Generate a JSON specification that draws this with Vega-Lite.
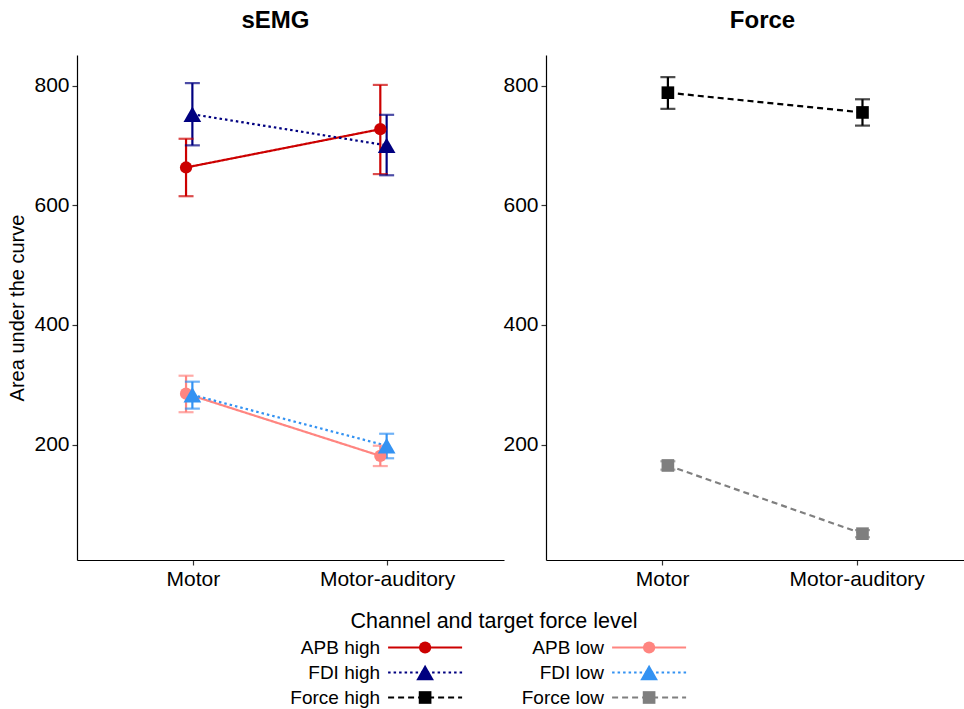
{
  "$schema": "https://vega.github.io/schema/vega-lite/v6.json",
  "background": "white",
  "padding": {"left": 7, "top": 9, "right": 0, "bottom": 0},
  "config": {
    "font": "Liberation Sans",
    "view": {"stroke": null},
    "axis": {"grid": false, "domainColor": "#000000", "domainWidth": 1.2, "tickColor": "#333333", "tickWidth": 1.2, "tickSize": 5, "labelColor": "#000000", "labelFontSize": 21, "labelPadding": 3, "titleColor": "#000000", "titleFontSize": 20, "titleFontWeight": "normal"},
    "title": {"color": "#000000"}
  },
  "datasets": {
    "d": [
      {"panel": "sEMG", "condition": "Motor", "channel": "APB", "level": "high", "series": "APB high", "mean": 663, "lo": 615, "hi": 711},
      {"panel": "sEMG", "condition": "Motor-auditory", "channel": "APB", "level": "high", "series": "APB high", "mean": 727, "lo": 652, "hi": 801},
      {"panel": "sEMG", "condition": "Motor", "channel": "FDI", "level": "high", "series": "FDI high", "mean": 752, "lo": 700, "hi": 804},
      {"panel": "sEMG", "condition": "Motor-auditory", "channel": "FDI", "level": "high", "series": "FDI high", "mean": 700, "lo": 650, "hi": 751},
      {"panel": "sEMG", "condition": "Motor", "channel": "APB", "level": "low", "series": "APB low", "mean": 285, "lo": 254, "hi": 315},
      {"panel": "sEMG", "condition": "Motor-auditory", "channel": "APB", "level": "low", "series": "APB low", "mean": 181, "lo": 164, "hi": 198},
      {"panel": "sEMG", "condition": "Motor", "channel": "FDI", "level": "low", "series": "FDI low", "mean": 283, "lo": 260, "hi": 305},
      {"panel": "sEMG", "condition": "Motor-auditory", "channel": "FDI", "level": "low", "series": "FDI low", "mean": 198, "lo": 177, "hi": 218},
      {"panel": "Force", "condition": "Motor", "channel": "Force", "level": "high", "series": "Force high", "mean": 788, "lo": 761, "hi": 814},
      {"panel": "Force", "condition": "Motor-auditory", "channel": "Force", "level": "high", "series": "Force high", "mean": 755, "lo": 733, "hi": 777},
      {"panel": "Force", "condition": "Motor", "channel": "Force", "level": "low", "series": "Force low", "mean": 165, "lo": 158, "hi": 172},
      {"panel": "Force", "condition": "Motor-auditory", "channel": "Force", "level": "low", "series": "Force low", "mean": 51, "lo": 45, "hi": 57}
    ]
  },
  "data": {"name": "d"},
  "vconcat": [
    {
      "hconcat": [
        {
          "width": 427,
          "height": 505,
          "title": {"text": "sEMG", "fontSize": 24, "fontWeight": "bold", "anchor": "middle", "frame": "group", "dx": -15, "offset": 22},
          "transform": [{"filter": "datum.panel === 'sEMG'"}],
          "encoding": {
            "x": {"field": "condition", "type": "nominal", "scale": {"type": "band", "domain": ["Motor", "Motor-auditory"], "paddingInner": 0.892, "paddingOuter": 0.545, "align": 0.5}, "axis": {"title": null, "labelAngle": 0}},
            "xOffset": {"field": "channel", "type": "nominal", "scale": {"domain": ["APB", "FDI", "Force"], "range": [0, 19]}},
            "color": {"field": "series", "type": "nominal", "scale": {"domain": ["APB high", "APB low", "FDI high", "FDI low", "Force high", "Force low"], "range": ["#CC0000", "#FF8580", "#000080", "#3392F2", "#000000", "#7F7F7F"]}, "legend": null}
          },
          "layer": [
            {"mark": {"type": "line", "strokeWidth": 2.2}, "encoding": {
              "y": {"field": "mean", "type": "quantitative", "title": "Area under the curve", "scale": {"domain": [7, 851], "nice": false, "zero": false}, "axis": {"values": [200, 400, 600, 800], "titlePadding": 6}},
              "strokeDash": {"field": "channel", "type": "nominal", "scale": {"domain": ["APB", "FDI", "Force"], "range": [[1, 0], [2.5, 3], [6, 4]]}, "legend": null},
              "detail": {"field": "series"}}},
            {"mark": {"type": "rule", "strokeWidth": 2.2}, "encoding": {
              "y": {"field": "lo", "type": "quantitative", "title": "Area under the curve"}, "y2": {"field": "hi"}}},
            {"mark": {"type": "tick", "orient": "horizontal", "size": 15, "thickness": 2.2}, "encoding": {
              "y": {"field": "lo", "type": "quantitative", "title": "Area under the curve"}}},
            {"mark": {"type": "tick", "orient": "horizontal", "size": 15, "thickness": 2.2}, "encoding": {
              "y": {"field": "hi", "type": "quantitative", "title": "Area under the curve"}}},
            {"mark": {"type": "point", "filled": true, "opacity": 1}, "encoding": {
              "y": {"field": "mean", "type": "quantitative", "title": "Area under the curve"},
              "shape": {"field": "channel", "type": "nominal", "scale": {"domain": ["APB", "FDI", "Force"], "range": ["circle", "triangle-up", "square"]}, "legend": null},
              "size": {"field": "channel", "type": "nominal", "scale": {"type": "ordinal", "domain": ["APB", "FDI", "Force"], "range": [150, 313, 160]}, "legend": null}}}
          ]
        },
        {
          "width": 418,
          "height": 505,
          "title": {"text": "Force", "fontSize": 24, "fontWeight": "bold", "anchor": "middle", "frame": "group", "dx": 7.5, "offset": 22},
          "transform": [{"filter": "datum.panel === 'Force'"}],
          "encoding": {
            "x": {"field": "condition", "type": "nominal", "scale": {"type": "band", "domain": ["Motor", "Motor-auditory"], "paddingInner": 0.892, "paddingOuter": 0.52, "align": 0.524}, "axis": {"title": null, "labelAngle": 0}},
            "xOffset": {"field": "channel", "type": "nominal", "scale": {"domain": ["APB", "FDI", "Force"], "range": [0, 19]}},
            "color": {"field": "series", "type": "nominal", "scale": {"domain": ["APB high", "APB low", "FDI high", "FDI low", "Force high", "Force low"], "range": ["#CC0000", "#FF8580", "#000080", "#3392F2", "#000000", "#7F7F7F"]}, "legend": null}
          },
          "layer": [
            {"mark": {"type": "line", "strokeWidth": 2.2}, "encoding": {
              "y": {"field": "mean", "type": "quantitative", "title": null, "scale": {"domain": [7, 851], "nice": false, "zero": false}, "axis": {"values": [200, 400, 600, 800]}},
              "strokeDash": {"field": "channel", "type": "nominal", "scale": {"domain": ["APB", "FDI", "Force"], "range": [[1, 0], [2.5, 3], [6, 4]]}, "legend": null},
              "detail": {"field": "series"}}},
            {"mark": {"type": "rule", "strokeWidth": 2.2}, "encoding": {
              "y": {"field": "lo", "type": "quantitative", "title": null}, "y2": {"field": "hi"}}},
            {"mark": {"type": "tick", "orient": "horizontal", "size": 15, "thickness": 2.2}, "encoding": {
              "y": {"field": "lo", "type": "quantitative", "title": null}}},
            {"mark": {"type": "tick", "orient": "horizontal", "size": 15, "thickness": 2.2}, "encoding": {
              "y": {"field": "hi", "type": "quantitative", "title": null}}},
            {"mark": {"type": "point", "filled": true, "opacity": 1}, "encoding": {
              "y": {"field": "mean", "type": "quantitative", "title": null},
              "shape": {"field": "channel", "type": "nominal", "scale": {"domain": ["APB", "FDI", "Force"], "range": ["circle", "triangle-up", "square"]}, "legend": null},
              "size": {"field": "channel", "type": "nominal", "scale": {"type": "ordinal", "domain": ["APB", "FDI", "Force"], "range": [150, 313, 160]}, "legend": null}}}
          ]
        }
      ],
      "spacing": 42,
      "bounds": "flush",
      "resolve": {"scale": {"x": "independent", "xOffset": "independent"}}
    },
    {
      "width": 672,
      "height": 75,
      "title": {"text": "Channel and target force level", "fontSize": 21.5, "fontWeight": "normal", "anchor": "middle", "frame": "group", "dx": 81, "offset": 3},
      "transform": [{"filter": "datum.condition === 'Motor'"}],
      "encoding": {
        "x": {"field": "level", "type": "nominal", "scale": {"type": "point", "domain": ["high", "low"], "padding": 1, "align": 0.777}, "axis": null},
        "y": {"field": "channel", "type": "nominal", "scale": {"type": "point", "domain": ["APB", "FDI", "Force"], "padding": 0.5}, "axis": null}
      },
      "layer": [
        {"mark": {"type": "point", "shape": "M-1,0L1,0", "filled": false, "size": 5476, "strokeWidth": 2.2, "opacity": 1}, "encoding": {
          "color": {"field": "series", "type": "nominal", "scale": {"domain": ["APB high", "APB low", "FDI high", "FDI low", "Force high", "Force low"], "range": ["#CC0000", "#FF8580", "#000080", "#3392F2", "#000000", "#7F7F7F"]}, "legend": null},
          "strokeDash": {"field": "channel", "type": "nominal", "scale": {"domain": ["APB", "FDI", "Force"], "range": [[1, 0], [2.5, 3], [6, 4]]}, "legend": null}}},
        {"mark": {"type": "point", "filled": true, "opacity": 1}, "encoding": {
          "color": {"field": "series", "type": "nominal", "scale": {"domain": ["APB high", "APB low", "FDI high", "FDI low", "Force high", "Force low"], "range": ["#CC0000", "#FF8580", "#000080", "#3392F2", "#000000", "#7F7F7F"]}, "legend": null},
          "shape": {"field": "channel", "type": "nominal", "scale": {"domain": ["APB", "FDI", "Force"], "range": ["circle", "triangle-up", "square"]}, "legend": null},
          "size": {"field": "channel", "type": "nominal", "scale": {"type": "ordinal", "domain": ["APB", "FDI", "Force"], "range": [150, 313, 160]}, "legend": null}}},
        {"mark": {"type": "text", "align": "right", "baseline": "middle", "dx": -45, "fontSize": 19, "color": "#000000"}, "encoding": {
          "text": {"field": "series", "type": "nominal"}}}
      ]
    }
  ],
  "spacing": 21
}
